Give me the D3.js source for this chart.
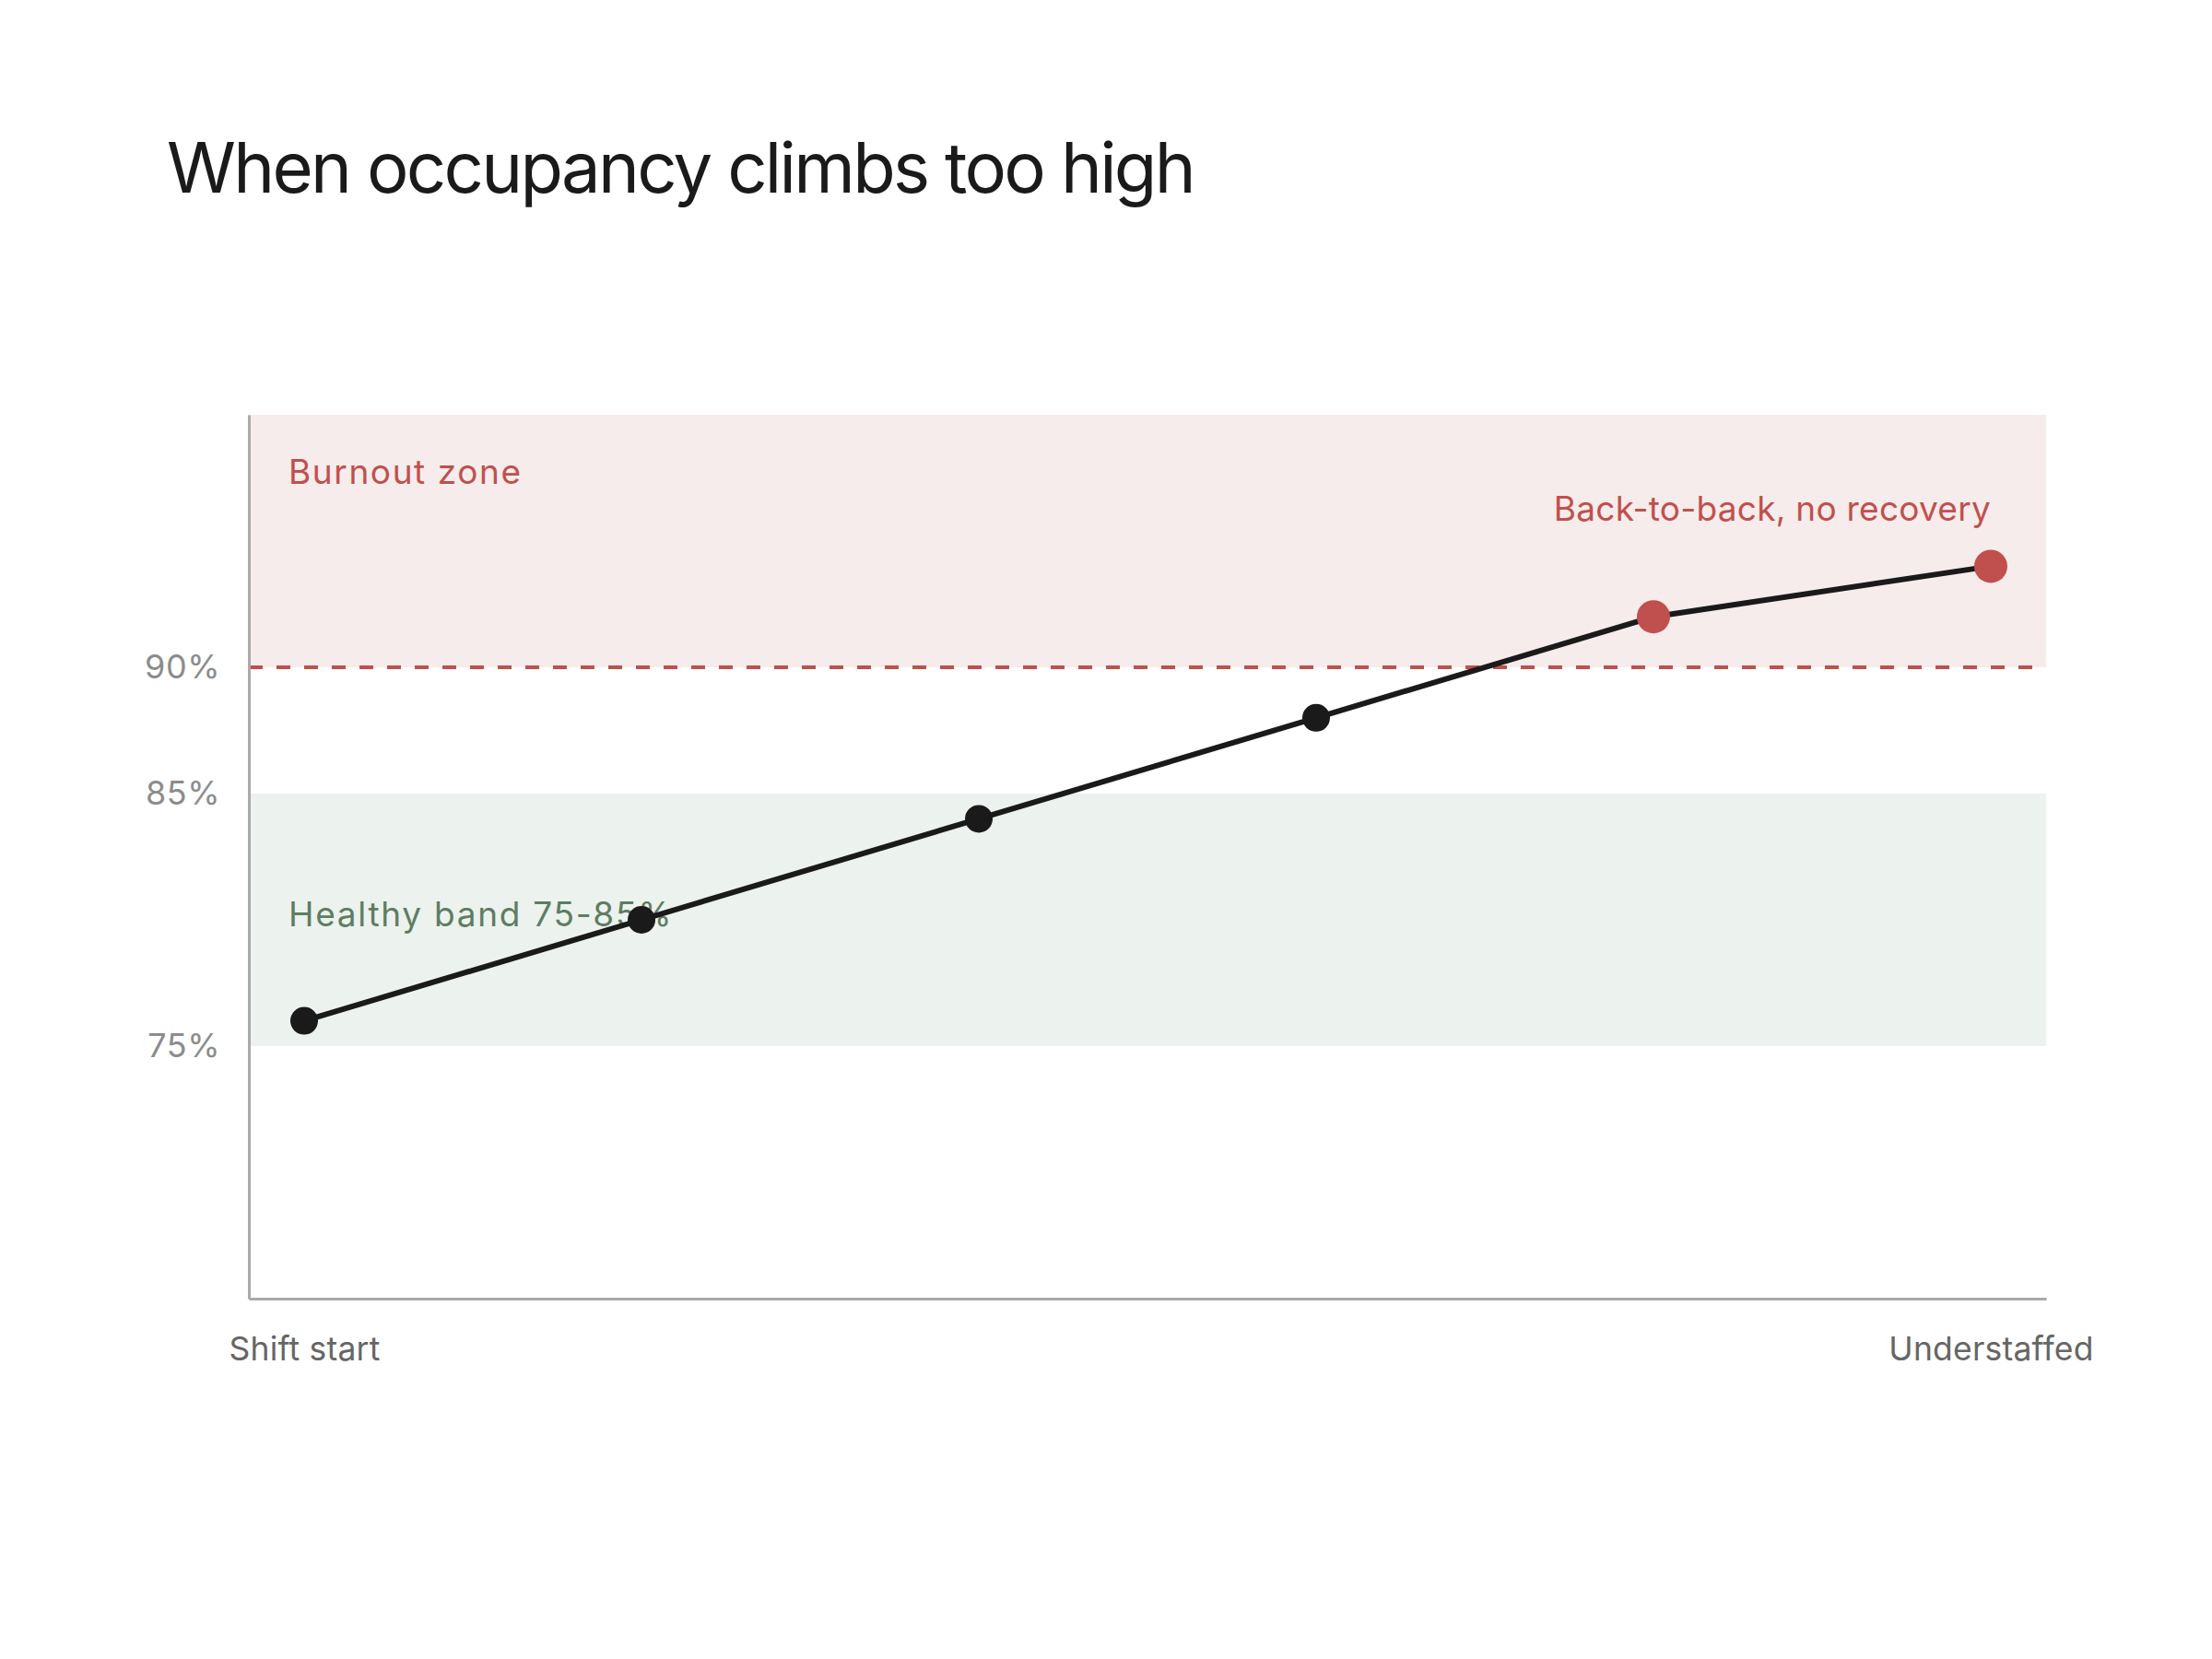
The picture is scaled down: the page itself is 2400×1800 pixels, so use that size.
<!DOCTYPE html>
<html>
<head>
<meta charset="utf-8">
<script src="https://cdn.jsdelivr.net/npm/d3@7"></script>
<style>
  html, body { margin: 0; padding: 0; background: #ffffff; }
  svg { display: block; font-family: Inter, "Noto Sans", sans-serif; }
</style>
</head>
<body>
<svg id="chart" width="2400" height="1800"></svg>
<script>
// ---- data ----
const categories = ["Shift start", "Stage 2", "Stage 3", "Stage 4", "Stage 5", "Understaffed"];
const occupancy = [76, 80, 84, 88, 92, 94];
const yTicks = [75, 85, 90];
const xTickLabels = ["Shift start", "Understaffed"];
const healthyBand = [75, 85];
const burnoutThreshold = 90;
const yDomain = [65, 100];
const titleText = "When occupancy climbs too high";
const burnoutLabel = "Burnout zone";
const healthyLabel = "Healthy band 75-85%";
const peakLabel = "Back-to-back, no recovery";

// ---- layout ----
const svg = d3.select("#chart");
const plotLeft = 270, plotRight = 2220, plotTop = 450, plotBottom = 1409;

const x = d3.scalePoint().domain(categories).range([plotLeft, plotRight]).padding(0.164);
const y = d3.scaleLinear().domain(yDomain).range([plotBottom, plotTop]);

const red = "#c0504d";

// title
svg.append("text")
  .attr("x", 181).attr("y", 209)
  .attr("font-size", 76)
  .attr("letter-spacing", -2.7)
  .attr("fill", "#1a1a1a")
  .text(titleText);

// burnout band
svg.append("rect")
  .attr("x", plotLeft).attr("y", y(yDomain[1]))
  .attr("width", plotRight - plotLeft)
  .attr("height", y(burnoutThreshold) - y(yDomain[1]))
  .attr("fill", "#f6ecec");

// healthy band
svg.append("rect")
  .attr("x", plotLeft).attr("y", y(healthyBand[1]))
  .attr("width", plotRight - plotLeft)
  .attr("height", y(healthyBand[0]) - y(healthyBand[1]))
  .attr("fill", "#ecf2ee");

// threshold dashed line
svg.append("line")
  .attr("x1", plotLeft).attr("x2", plotRight)
  .attr("y1", y(burnoutThreshold)).attr("y2", y(burnoutThreshold))
  .attr("stroke", red).attr("stroke-width", 4)
  .attr("stroke-dasharray", "15,15");

// y axis
const yAxis = svg.append("g")
  .attr("transform", `translate(${plotLeft},0)`)
  .call(d3.axisLeft(y).tickValues(yTicks).tickSize(0).tickPadding(31).tickFormat(d => d + "%"));
yAxis.select(".domain").attr("stroke", "#aaaaaa").attr("stroke-width", 3);
yAxis.selectAll("text")
  .attr("font-family", "Inter, sans-serif")
  .attr("font-size", 36)
  .attr("fill", "#8c8c8c")
  .attr("letter-spacing", 0.5);

// x axis
const xAxis = svg.append("g")
  .attr("transform", `translate(0,${plotBottom})`)
  .call(d3.axisBottom(x).tickValues(xTickLabels).tickSize(0).tickPadding(42));
xAxis.select(".domain").attr("stroke", "#aaaaaa").attr("stroke-width", 3);
xAxis.selectAll("text")
  .attr("font-family", "Inter, sans-serif")
  .attr("font-size", 35.5)
  .attr("letter-spacing", 0.2)
  .attr("fill", "#666666");

// zone labels
svg.append("text")
  .attr("x", 313).attr("y", 525)
  .attr("font-size", 37).attr("letter-spacing", 1.6)
  .attr("fill", red)
  .text(burnoutLabel);

svg.append("text")
  .attr("x", 313).attr("y", 1005)
  .attr("font-size", 37).attr("letter-spacing", 1.7)
  .attr("fill", "#5e7d62")
  .text(healthyLabel);

// line
const data = categories.map((c, i) => ({ c, v: occupancy[i] }));
svg.append("path")
  .datum(data)
  .attr("fill", "none")
  .attr("stroke", "#1a1a1a")
  .attr("stroke-width", 6)
  .attr("stroke-linejoin", "round")
  .attr("d", d3.line().x(d => x(d.c)).y(d => y(d.v)));

// points
svg.selectAll("circle.pt")
  .data(data)
  .join("circle")
  .attr("class", "pt")
  .attr("cx", d => x(d.c))
  .attr("cy", d => y(d.v))
  .attr("r", d => d.v > burnoutThreshold ? 18 : 15)
  .attr("fill", d => d.v > burnoutThreshold ? red : "#1a1a1a");

// peak annotation
const last = data[data.length - 1];
svg.append("text")
  .attr("x", x(last.c)).attr("y", 565)
  .attr("text-anchor", "end")
  .attr("font-size", 37).attr("letter-spacing", 0.25)
  .attr("fill", red)
  .text(peakLabel);
</script>
</body>
</html>
